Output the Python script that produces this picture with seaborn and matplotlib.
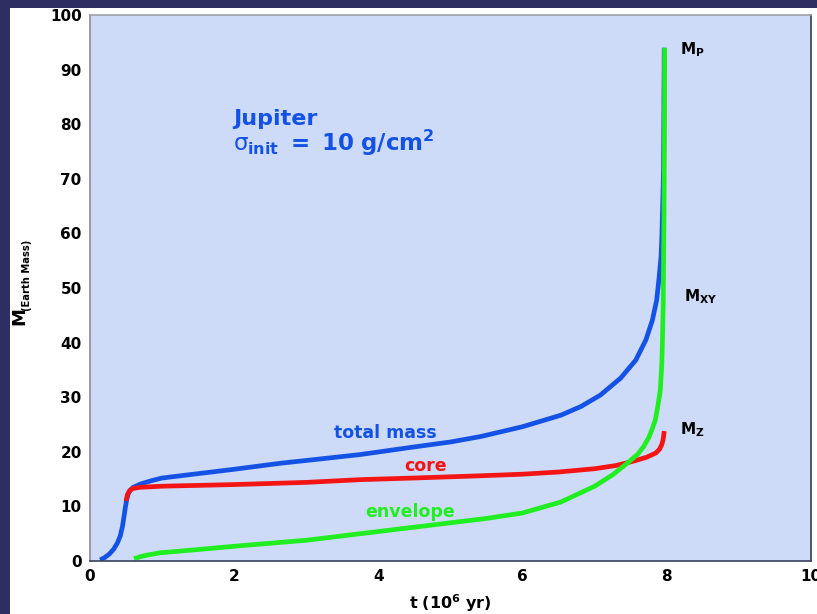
import numpy as np
import pandas as pd
import matplotlib
matplotlib.use("Agg")
import matplotlib.pyplot as plt
from matplotlib.patches import Rectangle
import seaborn as sns

# ---- data ----
t_total = [0.14, 0.20, 0.27, 0.33, 0.38, 0.42, 0.45, 0.47, 0.49, 0.51, 0.53, 0.56, 0.60, 0.70,
           0.85, 1.0, 1.5, 2.0, 2.64, 3.2, 3.75, 4.5, 5.0, 5.42, 6.0, 6.53, 6.81, 7.08, 7.36,
           7.57, 7.71, 7.80, 7.86, 7.89, 7.92, 7.93, 7.945, 7.955, 7.965]
m_total = [0.2, 0.6, 1.3, 2.2, 3.3, 4.6, 6.3, 8.0, 9.8, 11.3, 12.3, 13.0, 13.5, 14.1,
           14.7, 15.2, 16.0, 16.8, 17.9, 18.7, 19.5, 20.9, 21.8, 22.8, 24.6, 26.7, 28.3, 30.4, 33.5,
           36.8, 40.5, 44.1, 47.8, 51.5, 55.7, 58.8, 66.0, 72.0, 94.0]

t_core = [0.50, 0.52, 0.55, 0.60, 0.70, 0.85, 1.0, 2.0, 3.0, 3.75, 4.5, 5.4, 6.0, 6.5, 7.0,
          7.3, 7.54, 7.72, 7.85, 7.90, 7.93, 7.95, 7.965]
m_core = [11.0, 12.2, 12.9, 13.3, 13.5, 13.6, 13.7, 14.0, 14.4, 14.9, 15.2, 15.6, 15.9, 16.3, 16.9,
          17.5, 18.3, 19.0, 19.8, 20.5, 21.3, 22.3, 23.8]

t_env = [0.61, 0.70, 0.80, 0.97, 1.5, 2.0, 3.0, 3.75, 4.5, 5.0, 5.5, 6.0, 6.53, 7.0, 7.25,
         7.45, 7.6, 7.68, 7.75, 7.80, 7.84, 7.875, 7.91, 7.93, 7.94, 7.95, 7.955, 7.962, 7.968, 7.97]
m_env = [0.4, 0.8, 1.1, 1.5, 2.1, 2.7, 3.8, 5.0, 6.2, 7.0, 7.8, 8.8, 10.8, 13.7, 15.8,
         17.9, 19.6, 21.0, 22.6, 24.3, 25.8, 28.3, 31.3, 36.0, 40.5, 47.0, 54.6, 65.0, 80.0, 94.0]

series_names = ["total mass", "core", "envelope"]
series_colors = ["#1452e6", "#f41414", "#20ee20"]
x_ticks = [0, 2, 4, 6, 8, 10]
y_ticks = [0, 10, 20, 30, 40, 50, 60, 70, 80, 90, 100]

df = pd.concat([
    pd.DataFrame({"t": t_total, "M": m_total, "series": series_names[0]}),
    pd.DataFrame({"t": t_core, "M": m_core, "series": series_names[1]}),
    pd.DataFrame({"t": t_env, "M": m_env, "series": series_names[2]}),
], ignore_index=True)

sns.set_style("white")
plt.rcParams["font.family"] = ["DejaVu Sans"]
plt.rcParams["text.color"] = "black"
plt.rcParams["xtick.color"] = "black"
plt.rcParams["ytick.color"] = "black"
plt.rcParams["mathtext.fontset"] = "custom"
plt.rcParams["mathtext.rm"] = "DejaVu Sans:bold"
plt.rcParams["mathtext.bf"] = "DejaVu Sans:bold"
plt.rcParams["mathtext.it"] = "DejaVu Sans"
plt.rcParams["mathtext.sf"] = "DejaVu Sans:bold"

W, H = 817, 614
fig = plt.figure(figsize=(W / 100, H / 100), dpi=100)
fig.patch.set_facecolor("#2f2e63")
fig.patches.append(Rectangle((10 / W, 0), 1, (H - 8) / H, transform=fig.transFigure,
                             facecolor="white", edgecolor="none", zorder=-10))

ax = fig.add_axes([90 / W, 1 - 561 / H, (811 - 90) / W, (561 - 15) / H])
ax.set_zorder(1)
ax.set_facecolor("#cddbf8")

sns.lineplot(data=df, x="t", y="M", hue="series", hue_order=series_names,
             palette=dict(zip(series_names, series_colors)), sort=False, estimator=None,
             units="series", linewidth=3.4, legend=False, ax=ax)
for ln in ax.lines:
    ln.set_solid_capstyle("butt")
    ln.set_solid_joinstyle("round")

ax.set_xlim(0, 10)
ax.set_ylim(0, 100)
ax.set_xticks(x_ticks)
ax.set_yticks(y_ticks)
ax.set_xticklabels([str(v) for v in x_ticks], fontweight="bold", fontsize=11, color="black")
ax.set_yticklabels([str(v) for v in y_ticks], fontweight="bold", fontsize=11, color="black")
ax.tick_params(axis="x", direction="in", length=14.5, width=1.1, color="#33374f", pad=6)
ax.tick_params(axis="y", direction="in", length=19.5, width=1.1, color="#4a4f68", pad=6)
ax.set_xlabel("")
ax.set_ylabel("")

ax.spines["left"].set_color("#8c8c98")
ax.spines["bottom"].set_color("#3a3f5a")
ax.spines["top"].set_color("#a0a0a8")
ax.spines["right"].set_color("#3a3a48")
for s in ax.spines.values():
    s.set_linewidth(1.2)

# curve labels
ax.text(4.10, 23.4, "total mass", color=series_colors[0], fontsize=12.5, fontweight="bold",
        ha="center", va="center")
ax.text(4.65, 17.4, "core", color=series_colors[1], fontsize=12.5, fontweight="bold",
        ha="center", va="center")
ax.text(4.44, 9.0, "envelope", color=series_colors[2], fontsize=12.5, fontweight="bold",
        ha="center", va="center")

ax.text(1.99, 79.9, "Jupiter", color="#1452e6", fontsize=16, fontweight="bold",
        ha="left", va="baseline")
ax.text(1.99, 75.1, r"$\sigma_{\mathrm{init}}\ \mathrm{=\ 10\ g/cm^{2}}$",
        color="#1452e6", fontsize=16.5, ha="left", va="baseline")

ax.text(8.19, 93.6, r"$\mathrm{M_{P}}$", fontsize=11, ha="left", va="center")
ax.text(8.24, 48.4, r"$\mathrm{M_{XY}}$", fontsize=11, ha="left", va="center")
ax.text(8.19, 24.0, r"$\mathrm{M_{Z}}$", fontsize=11, ha="left", va="center")

# y-axis title: big "M" with a small "(Earth Mass)" subscript
fig.text(19 / W, 1 - 316 / H, "M", rotation=90, fontsize=13, fontweight="bold",
         ha="center", va="center")
fig.text(27 / W, 1 - 275 / H, "(Earth Mass)", rotation=90, fontsize=7.2, fontweight="bold",
         ha="center", va="center")
fig.text(450 / W, 1 - 603 / H, r"$\mathrm{t\ (10^{6}\ yr)}$", fontsize=11.5,
         ha="center", va="center")

fig.savefig("out.png", dpi=100, facecolor=fig.get_facecolor())
